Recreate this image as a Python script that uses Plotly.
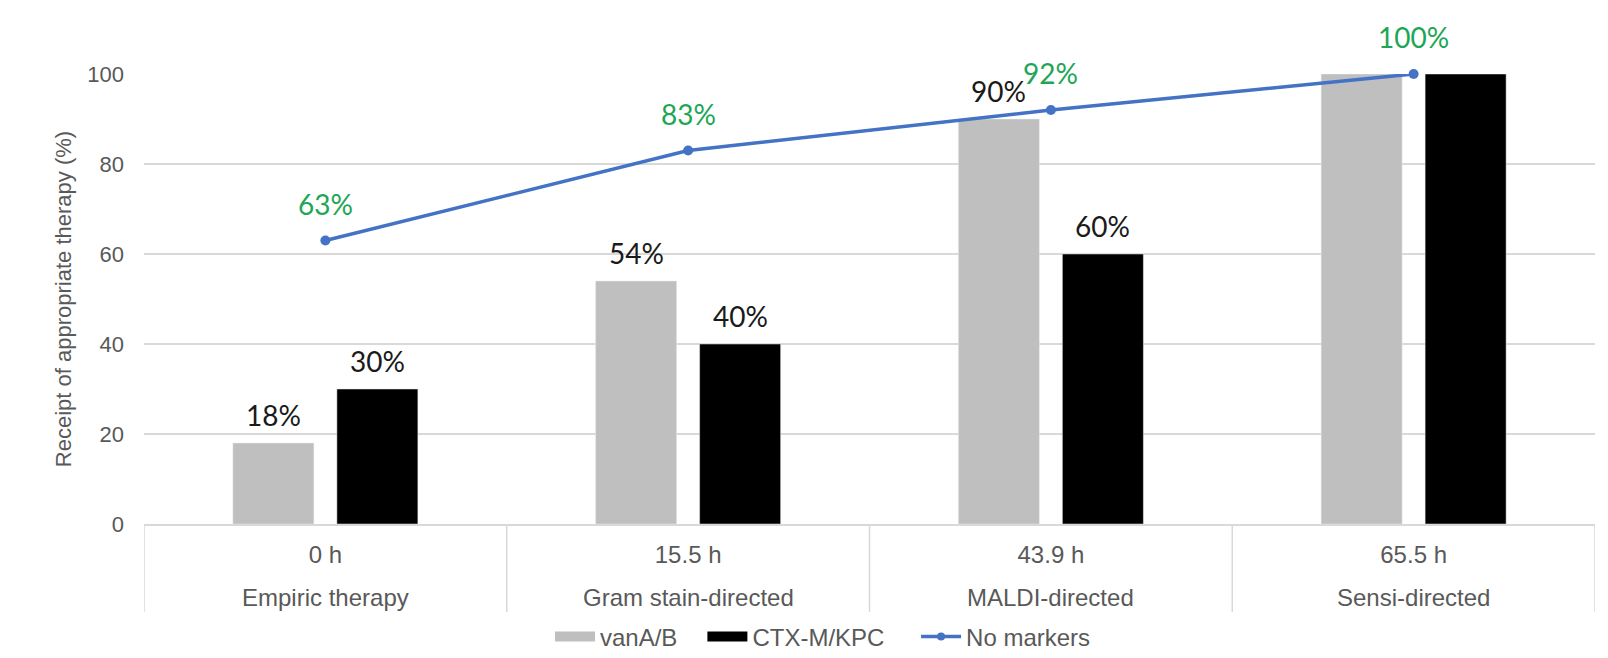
import plotly.graph_objects as go

phases = ["Empiric therapy", "Gram stain-directed", "MALDI-directed", "Sensi-directed"]
hours = ["0 h", "15.5 h", "43.9 h", "65.5 h"]
vanA = [18, 54, 90, 100]
ctx = [30, 40, 60, 100]
no_markers = [63, 83, 92, 100]
y_ticks = [0, 20, 40, 60, 80, 100]
n_bar_labels = 3  # the two 100% bars carry no label in the original

GRAY = "#BFBFBF"
BLACK = "#000000"
BLUE = "#4472C4"
GREEN = "#1DA656"
TXT = "#595959"
GRID = "#D9D9D9"
LABEL_FONT = "Lato"
AX_FONT = "Liberation Sans, Arial"

# layout geometry (the page body adds an 8px margin around the figure)
PAGE_W, PAGE_H, BODY = 1608, 658, 8
W, H = PAGE_W - 2 * BODY, PAGE_H - 2 * BODY
ML, MR, MT, MB = 136, 5, 66, 126
plot_w = W - ML - MR
plot_h = H - MT - MB
cat_w = plot_w / len(phases)
bargap = 0.4266
bargroupgap = 0.221
slot = cat_w * (1 - bargap) / 2
bar_shift = slot / 2  # pixel distance of each bar centre from category centre

fig = go.Figure()

fig.add_trace(go.Bar(x=phases, y=vanA, name="vanA/B", marker_color=GRAY,
                     showlegend=False))
fig.add_trace(go.Bar(x=phases, y=ctx, name="CTX-M/KPC", marker_color=BLACK,
                     showlegend=False))
fig.add_trace(go.Scatter(x=phases, y=no_markers, name="No markers", mode="lines+markers",
                         line=dict(color=BLUE, width=3.5), marker=dict(size=10, color=BLUE),
                         cliponaxis=False, showlegend=False))

# legend entries (wide swatches like the original)
PAD = "\u00a0" * 3
fig.add_trace(go.Scatter(x=[None], y=[None], name="vanA/B" + PAD, mode="lines",
                         line=dict(color=GRAY, width=11)))
fig.add_trace(go.Scatter(x=[None], y=[None], name="CTX-M/KPC" + PAD + "\u00a0", mode="lines",
                         line=dict(color=BLACK, width=11)))
fig.add_trace(go.Scatter(x=[None], y=[None], name="No markers", mode="lines+markers",
                         line=dict(color=BLUE, width=3.5), marker=dict(size=8, color=BLUE)))

annotations = []
for ph, v in zip(phases[:n_bar_labels], vanA[:n_bar_labels]):
    annotations.append(dict(x=ph, y=v, text=f"{v}%", showarrow=False, xshift=-bar_shift,
                            yshift=28, yanchor="middle",
                            font=dict(family=LABEL_FONT, size=28, color="#1a1a1a")))
for ph, v in zip(phases[:n_bar_labels], ctx[:n_bar_labels]):
    annotations.append(dict(x=ph, y=v, text=f"{v}%", showarrow=False, xshift=bar_shift,
                            yshift=28, yanchor="middle",
                            font=dict(family=LABEL_FONT, size=28, color="#1a1a1a")))
for ph, v in zip(phases, no_markers):
    annotations.append(dict(x=ph, y=v, text=f"{v}%", showarrow=False,
                            yshift=37, yanchor="middle",
                            font=dict(family=LABEL_FONT, size=28, color=GREEN)))
for ph in phases:
    annotations.append(dict(x=ph, y=-73 / plot_h, yref="paper", text=ph, showarrow=False,
                            yanchor="middle", font=dict(family=AX_FONT, size=24, color=TXT)))

shapes = []
for i in range(len(phases) + 1):
    shapes.append(dict(type="line", xref="x", yref="paper", x0=i - 0.5, x1=i - 0.5,
                       y0=0, y1=-88 / plot_h, line=dict(color=GRID, width=1.5)))

fig.update_layout(
    width=W, height=H,
    margin=dict(l=ML, r=MR, t=MT, b=MB, pad=0, autoexpand=False),
    paper_bgcolor="white", plot_bgcolor="white",
    barmode="group", bargap=bargap, bargroupgap=bargroupgap,
    font=dict(family=AX_FONT, color=TXT),
    showlegend=True,
    legend=dict(orientation="h", x=(823 - BODY - ML) / plot_w, xanchor="center",
                y=-(637 - BODY - MT - plot_h) / plot_h, yanchor="middle",
                font=dict(family=AX_FONT, size=24, color=TXT), itemwidth=40,
                bgcolor="rgba(0,0,0,0)"),
    annotations=annotations,
    shapes=shapes,
)
fig.update_xaxes(type="category", range=[-0.5, len(phases) - 0.5], automargin=False,
                 tickvals=phases, ticktext=hours, tickfont=dict(family=AX_FONT, size=24, color=TXT),
                 showline=True, linecolor=GRID, linewidth=1.5, showgrid=False, ticks="",
                 ticklabelstandoff=8, fixedrange=True)
fig.update_yaxes(range=[0, 100], tickvals=y_ticks, showgrid=True, gridcolor=GRID, gridwidth=1.5,
                 zeroline=False, ticks="", automargin=False,
                 tickfont=dict(family=AX_FONT, size=22, color=TXT),
                 ticklabelstandoff=19,
                 title=dict(text="Receipt of appropriate therapy (%)", standoff=9,
                            font=dict(family=AX_FONT, size=22, color=TXT)))

fig.write_html("out.html")
